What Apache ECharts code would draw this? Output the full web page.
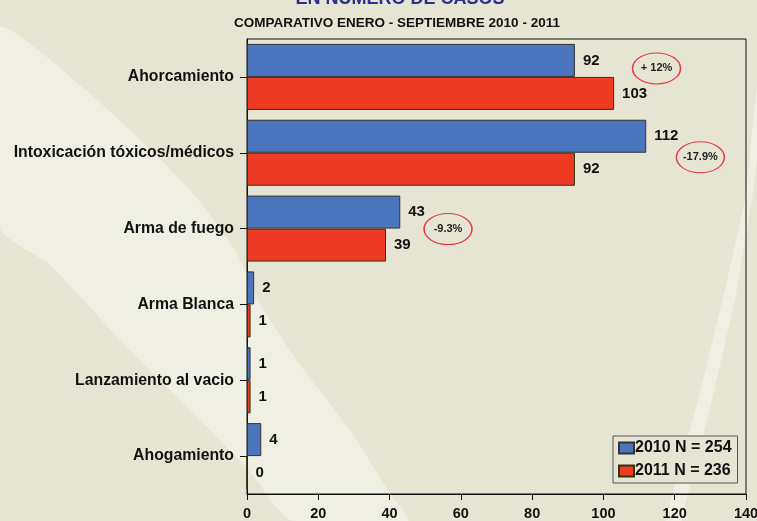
<!DOCTYPE html>
<html>
<head>
<meta charset="utf-8">
<script src="https://cdn.jsdelivr.net/npm/echarts@6/dist/echarts.min.js"></script>
<style>html,body{margin:0;padding:0;background:#E6E4D3;}#c{width:757px;height:521px;}</style>
</head>
<body>
<div id="c"></div>
<script>
var categories = ['Ahorcamiento', 'Intoxicación tóxicos/médicos', 'Arma de fuego', 'Arma Blanca', 'Lanzamiento al vacio', 'Ahogamiento'];
var values2010 = [92, 112, 43, 2, 1, 4];
var values2011 = [103, 92, 39, 1, 1, 0];
var seriesNames = ['2010 N = 254', '2011 N = 236'];
var xTicks = [0, 20, 40, 60, 80, 100, 120, 140];
// change annotations: [text, x value, category index]
var changeNotes = [['+ 12%', 114.9, 0], ['-17.9%', 127.2, 1], ['-9.3%', 56.4, 2]];
var noteOffsets = [8, 21, 17];

var FONT = '"Liberation Sans", Arial, sans-serif';
var chart = echarts.init(document.getElementById('c'), null, {renderer: 'canvas'});
var ellipsePath = 'path://M0 16A16 16 0 1 1 32 16A16 16 0 1 1 0 16Z';

var option = {
  backgroundColor: '#E6E4D3',
  animation: false,
  title: [
    {text: 'EN NÚMERO DE CASOS', left: 395, textAlign: 'center', top: -15, textStyle: {fontFamily: FONT, fontSize: 18, fontWeight: 'bold', color: '#2B2F8E'}},
    {text: 'COMPARATIVO ENERO - SEPTIEMBRE 2010 - 2011', left: 392, textAlign: 'center', top: 11, textStyle: {fontFamily: FONT, fontSize: 13.5, fontWeight: 'bold', color: '#111'}}
  ],
  graphic: [
    {type: 'polygon', z: -10, silent: true, shape: {points: [[0,28],[60,68],[130,130],[190,190],[235,250],[258,300],[300,365],[350,430],[390,494],[408,521],[292,521],[247,468],[200,420],[120,340],[50,265],[0,228]], smooth: 0.2}, style: {fill: '#F0EFE3'}},
    {type: 'polygon', z: -10, silent: true, shape: {points: [[757,85],[745,200],[725,290],[698,400],[665,521],[681,521],[712,400],[735,300],[752,200],[757,160]]}, style: {fill: '#F0EFE3'}}
  ],
  legend: {
    orient: 'vertical', left: 613, top: 436,
    padding: [4, 6, 4, 5], itemGap: 7, itemWidth: 15, itemHeight: 11,
    borderColor: '#555', borderWidth: 1, backgroundColor: '#E6E4D3',
    icon: 'rect',
    textStyle: {fontFamily: FONT, fontSize: 16, fontWeight: 'bold', color: '#111', padding: [0, 0, 0, -4]},
    data: seriesNames
  },
  grid: {left: 247, right: 11, top: 39, bottom: 27, outerBoundsMode: 'none', containLabel: false, show: true, borderColor: '#111', borderWidth: 1, backgroundColor: 'transparent'},
  xAxis: {
    type: 'value', min: xTicks[0], max: xTicks[xTicks.length - 1], interval: 20,
    axisLine: {show: true, lineStyle: {color: '#111', width: 1}},
    axisTick: {show: true, length: 6, lineStyle: {color: '#111'}},
    splitLine: {show: false},
    axisLabel: {fontFamily: FONT, fontSize: 14.5, fontWeight: 'bold', color: '#111', margin: 12, showMaxLabel: true}
  },
  yAxis: {
    type: 'category', inverse: true, data: categories,
    axisLine: {show: true, lineStyle: {color: '#111', width: 1}},
    axisTick: {show: true, alignWithLabel: true, length: 7, lineStyle: {color: '#111'}},
    axisLabel: {fontFamily: FONT, fontSize: 15.8, fontWeight: 'bold', color: '#111', margin: 13}
  },
  series: [
    {
      name: seriesNames[0], type: 'bar', data: values2010, barGap: '0%', barCategoryGap: '13%',
      itemStyle: {color: '#4B75BD', borderColor: '#333', borderWidth: 1},
      label: {show: true, position: 'right', distance: 8, fontFamily: FONT, fontSize: 15, fontWeight: 'bold', color: '#111'},
      markPoint: {
        symbol: ellipsePath, symbolSize: [48, 31], silent: true,
        itemStyle: {color: 'rgba(0,0,0,0)', borderColor: '#E8343C', borderWidth: 1.2},
        label: {show: true, position: 'inside', fontFamily: FONT, fontSize: 11, fontWeight: 'bold', color: '#222'},
        data: changeNotes.map(function (n, i) {
          return {coord: [n[1], n[2]], value: n[0], symbolOffset: [0, noteOffsets[i]], label: {formatter: n[0]}};
        })
      }
    },
    {
      name: seriesNames[1], type: 'bar', data: values2011, barGap: '0%', barCategoryGap: '13%',
      itemStyle: {color: '#EF3B24', borderColor: '#331', borderWidth: 1},
      label: {show: true, position: 'right', distance: 8, fontFamily: FONT, fontSize: 15, fontWeight: 'bold', color: '#111'}
    }
  ]
};
chart.setOption(option);
</script>
</body>
</html>
